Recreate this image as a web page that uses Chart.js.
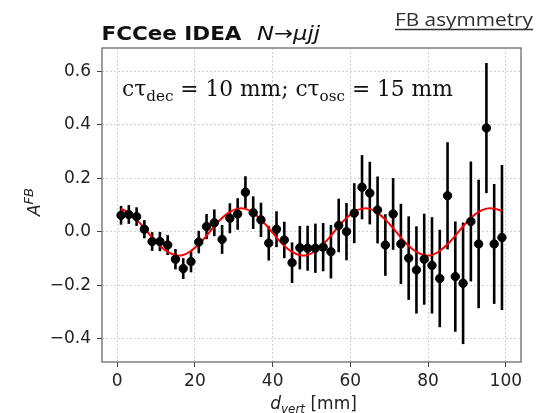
<!DOCTYPE html>
<html>
<head>
<meta charset="utf-8">
<script src="https://cdn.jsdelivr.net/npm/chart.js@4.4.1/dist/chart.umd.min.js"></script>
<style>
  html, body { margin: 0; padding: 0; background: #fff; }
  #wrap { width: 546px; height: 413px; }
</style>
</head>
<body>
<div id="wrap"><canvas id="afbChart" width="546" height="413"></canvas></div>
<script>
// bin centres of d_vert [mm]
var dVert = [1, 3, 5, 7, 9, 11, 13, 15, 17, 19, 21, 23, 25, 27, 29, 31, 33, 35, 37, 39,
             41, 43, 45, 47, 49, 51, 53, 55, 57, 59, 61, 63, 65, 67, 69, 71, 73, 75, 77, 79,
             81, 83, 85, 87, 89, 91, 93, 95, 97, 99];
// measured A^FB per bin
var afb = [0.062, 0.065, 0.057, 0.010, -0.036, -0.036, -0.049, -0.102, -0.137, -0.111,
           -0.038, 0.020, 0.034, -0.028, 0.051, 0.067, 0.148, 0.072, 0.045, -0.042,
           0.010, -0.030, -0.115, -0.059, -0.061, -0.061, -0.057, -0.074, 0.024, 0.001,
           0.070, 0.167, 0.145, 0.082, -0.049, 0.067, -0.045, -0.098, -0.142, -0.102,
           -0.125, -0.174, 0.135, -0.167, -0.192, 0.039, -0.045, 0.388, -0.045, -0.021];
// symmetric errors
var afbErr = [0.035, 0.035, 0.035, 0.034, 0.035, 0.036, 0.037, 0.038, 0.039, 0.040,
              0.042, 0.047, 0.050, 0.054, 0.056, 0.059, 0.060, 0.061, 0.064, 0.065,
              0.067, 0.068, 0.076, 0.081, 0.084, 0.092, 0.090, 0.100, 0.100, 0.107,
              0.112, 0.120, 0.117, 0.125, 0.115, 0.134, 0.150, 0.156, 0.163, 0.170,
              0.180, 0.182, 0.200, 0.206, 0.227, 0.224, 0.240, 0.243, 0.224, 0.271];
// red oscillation curve, read at the same bin centres
var fitY = [0.086, 0.071, 0.046, 0.014, -0.021, -0.052, -0.075, -0.087, -0.086, -0.071,
            -0.046, -0.014, 0.021, 0.052, 0.075, 0.087, 0.086, 0.071, 0.046, 0.014,
            -0.021, -0.052, -0.075, -0.087, -0.086, -0.071, -0.046, -0.014, 0.021, 0.052,
            0.075, 0.087, 0.086, 0.071, 0.046, 0.014, -0.021, -0.052, -0.075, -0.087,
            -0.086, -0.071, -0.046, -0.014, 0.021, 0.052, 0.075, 0.087, 0.087, 0.078];
var xTicks = [0, 20, 40, 60, 80, 100];
var yTicks = [-0.4, -0.2, 0.0, 0.2, 0.4, 0.6];

var TICK_FONT = '"DejaVu Sans"';

function drawRuns(ctx, runs, x, y) {
  runs.forEach(function (r) {
    ctx.font = r.font;
    ctx.fillText(r.text, x, y + (r.dy || 0));
    x += ctx.measureText(r.text).width;
  });
  return x;
}
function runsWidth(ctx, runs) {
  var w = 0;
  runs.forEach(function (r) { ctx.font = r.font; w += ctx.measureText(r.text).width; });
  return w;
}
// draw text squeezed/stretched horizontally to a given width
function fitText(ctx, text, font, x, y, width) {
  ctx.font = font;
  var w = ctx.measureText(text).width;
  ctx.save();
  ctx.translate(x, y);
  ctx.scale(width / w, 1);
  ctx.fillText(text, 0, 0);
  ctx.restore();
}

var decorations = {
  id: 'decorations',
  beforeDatasetsDraw: function (chart) {
    var ctx = chart.ctx, xs = chart.scales.x, ys = chart.scales.y;
    ctx.save();
    ctx.strokeStyle = '#000';
    ctx.lineWidth = 2.6;
    for (var i = 0; i < dVert.length; i++) {
      var px = xs.getPixelForValue(dVert[i]);
      ctx.beginPath();
      ctx.moveTo(px, ys.getPixelForValue(afb[i] - afbErr[i]));
      ctx.lineTo(px, ys.getPixelForValue(afb[i] + afbErr[i]));
      ctx.stroke();
    }
    ctx.restore();
  },
  afterDraw: function (chart) {
    var ctx = chart.ctx, a = chart.chartArea;
    ctx.save();
    // frame
    ctx.strokeStyle = '#6a6a6a';
    ctx.lineWidth = 1.3;
    ctx.strokeRect(a.left, a.top, a.right - a.left, a.bottom - a.top);

    ctx.fillStyle = '#111';
    ctx.textBaseline = 'alphabetic';
    ctx.textAlign = 'left';

    // title
    fitText(ctx, 'FCCee IDEA', 'bold 20px "DejaVu Sans"', 101.5, 40, 140);
    fitText(ctx, 'N\u2192\u03bcjj', 'oblique 20px "DejaVu Sans"', 257, 40, 63);

    // FB asymmetry (underlined)
    ctx.fillStyle = '#2e2e2e';
    fitText(ctx, 'FB asymmetry', '18.5px "Open Sans"', 395, 26, 138);
    ctx.strokeStyle = '#2e2e2e';
    ctx.lineWidth = 1.5;
    ctx.beginPath();
    ctx.moveTo(395, 29.5);
    ctx.lineTo(533, 29.5);
    ctx.stroke();

    // annotation
    ctx.fillStyle = '#111';
    var base = 20, sub = 14;
    var mk = function (b, s) {
      var mf = b + 'px "DejaVu Serif"', sf = s + 'px "DejaVu Serif"';
      return [
        { text: 'c\u03c4', font: mf },
        { text: 'dec', font: sf, dy: 4.5 },
        { text: ' = 10 mm; c\u03c4', font: mf },
        { text: 'osc', font: sf, dy: 4.5 },
        { text: ' = 15 mm', font: mf }
      ];
    };
    var k = 331 / runsWidth(ctx, mk(base, sub));
    drawRuns(ctx, mk(base * k, sub * k), 122, 96);

    // x axis title
    ctx.fillStyle = '#222';
    var xr = [
      { text: 'd', font: 'oblique 17px "DejaVu Sans"' },
      { text: 'vert', font: 'oblique 12px "DejaVu Sans"', dy: 3.5 },
      { text: ' [mm]', font: '17px "DejaVu Sans"' }
    ];
    var xw = runsWidth(ctx, xr);
    drawRuns(ctx, xr, (a.left + a.right) / 2 - xw / 2 + 2, 409);

    // y axis title
    var yr = [
      { text: 'A', font: 'oblique 17px "DejaVu Sans"' },
      { text: 'FB', font: 'oblique 13px "DejaVu Sans"', dy: -7 }
    ];
    var yw = runsWidth(ctx, yr);
    ctx.translate(39.5, 202);
    ctx.rotate(-Math.PI / 2);
    drawRuns(ctx, yr, -yw / 2, 0);
    ctx.restore();
  }
};

var ctx = document.getElementById('afbChart').getContext('2d');
var afbChart = new Chart(ctx, {
  type: 'scatter',
  data: {
    datasets: [{
      type: 'line',
      label: 'fit',
      data: dVert.map(function (x, i) { return { x: x, y: fitY[i] }; }),
      borderColor: '#ff0000',
      borderWidth: 2,
      pointRadius: 0,
      tension: 0.4,
      fill: false,
      order: 2
    }, {
      type: 'scatter',
      label: 'data',
      data: dVert.map(function (x, i) { return { x: x, y: afb[i] }; }),
      backgroundColor: '#000',
      borderColor: '#000',
      pointRadius: 4.2,
      order: 1
    }]
  },
  options: {
    responsive: false,
    animation: false,
    devicePixelRatio: 1,
    layout: { padding: { top: 48, right: 25, left: 0, bottom: 0 } },
    scales: {
      x: {
        type: 'linear',
        min: -3.9,
        max: 103.9,
        afterBuildTicks: function (s) { s.ticks = xTicks.map(function (v) { return { value: v }; }); },
        afterFit: function (s) { s.height = 51; },
        ticks: {
          font: { family: TICK_FONT, size: 17 },
          color: '#222',
          padding: 4,
          maxRotation: 0,
          callback: function (v) { return String(v); }
        },
        grid: { color: '#c4c4c4', lineWidth: 0.8, tickColor: '#444', tickLength: 5, tickWidth: 1 },
        border: { display: false, dash: [2, 2] }
      },
      y: {
        min: -0.486,
        max: 0.687,
        afterBuildTicks: function (s) { s.ticks = yTicks.map(function (v) { return { value: v }; }); },
        afterFit: function (s) { s.width = 102; },
        ticks: {
          font: { family: TICK_FONT, size: 17 },
          color: '#222',
          padding: 6,
          callback: function (v) { return (v < -1e-9 ? '\u2212' : '') + Math.abs(v).toFixed(1); }
        },
        grid: { color: '#c4c4c4', lineWidth: 0.8, tickColor: '#444', tickLength: 5, tickWidth: 1 },
        border: { display: false, dash: [2, 2] }
      }
    },
    plugins: {
      legend: { display: false },
      tooltip: { enabled: false }
    }
  },
  plugins: [decorations]
});
</script>
</body>
</html>
